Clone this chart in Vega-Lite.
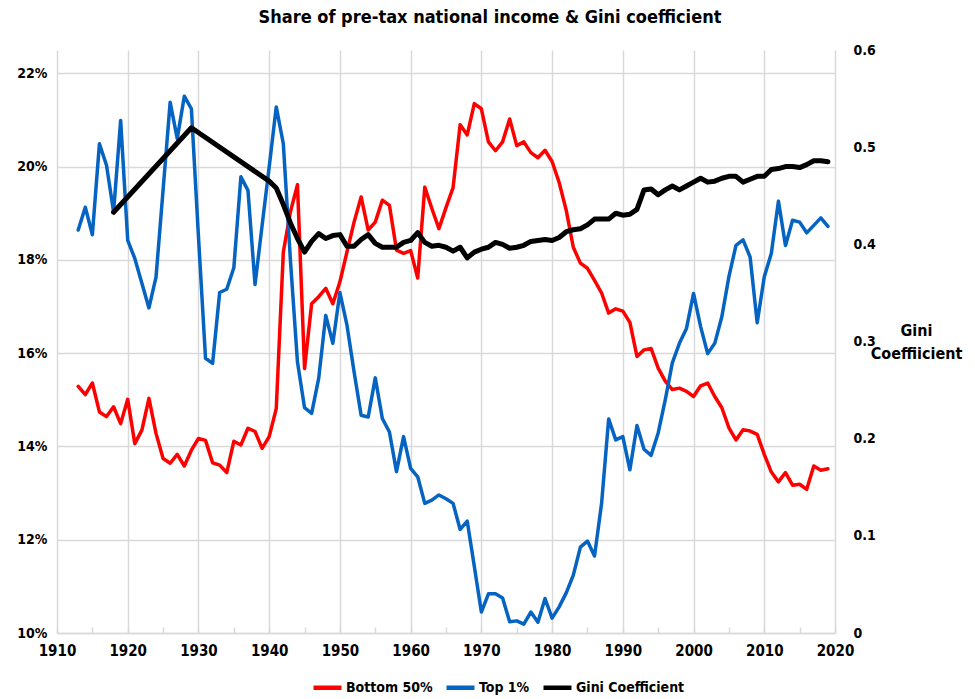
{
  "$schema": "https://vega.github.io/schema/vega-lite/v6.json",
  "width": 778,
  "height": 583,
  "autosize": "none",
  "padding": {"left": 57, "top": 50, "right": 140, "bottom": 66},
  "background": "white",
  "title": {
    "text": "Share of pre-tax national income & Gini coefficient",
    "font": "Liberation Sans Narrow, DejaVu Sans Condensed, sans-serif",
    "fontSize": 18,
    "fontWeight": "bold",
    "color": "#000000",
    "anchor": "middle",
    "dx": 44,
    "offset": 16
  },
  "config": {
    "view": {"stroke": null},
    "axis": {
      "labelFont": "Liberation Sans Narrow, DejaVu Sans Condensed, sans-serif",
      "labelFontWeight": "bold",
      "labelColor": "#000000",
      "titleFont": "Liberation Sans Narrow, DejaVu Sans Condensed, sans-serif"
    },
    "legend": {
      "labelFont": "Liberation Sans Narrow, DejaVu Sans Condensed, sans-serif"
    }
  },
  "data": {
    "values": [
      {"year": 1913, "series": "Bottom 50%", "value": 15.29},
      {"year": 1914, "series": "Bottom 50%", "value": 15.11},
      {"year": 1915, "series": "Bottom 50%", "value": 15.36},
      {"year": 1916, "series": "Bottom 50%", "value": 14.74},
      {"year": 1917, "series": "Bottom 50%", "value": 14.64},
      {"year": 1918, "series": "Bottom 50%", "value": 14.85},
      {"year": 1919, "series": "Bottom 50%", "value": 14.49},
      {"year": 1920, "series": "Bottom 50%", "value": 15.01},
      {"year": 1921, "series": "Bottom 50%", "value": 14.06},
      {"year": 1922, "series": "Bottom 50%", "value": 14.35},
      {"year": 1923, "series": "Bottom 50%", "value": 15.03},
      {"year": 1924, "series": "Bottom 50%", "value": 14.28},
      {"year": 1925, "series": "Bottom 50%", "value": 13.74},
      {"year": 1926, "series": "Bottom 50%", "value": 13.64},
      {"year": 1927, "series": "Bottom 50%", "value": 13.83},
      {"year": 1928, "series": "Bottom 50%", "value": 13.58},
      {"year": 1929, "series": "Bottom 50%", "value": 13.92},
      {"year": 1930, "series": "Bottom 50%", "value": 14.17},
      {"year": 1931, "series": "Bottom 50%", "value": 14.13},
      {"year": 1932, "series": "Bottom 50%", "value": 13.65},
      {"year": 1933, "series": "Bottom 50%", "value": 13.6},
      {"year": 1934, "series": "Bottom 50%", "value": 13.44},
      {"year": 1935, "series": "Bottom 50%", "value": 14.11},
      {"year": 1936, "series": "Bottom 50%", "value": 14.03},
      {"year": 1937, "series": "Bottom 50%", "value": 14.39},
      {"year": 1938, "series": "Bottom 50%", "value": 14.32},
      {"year": 1939, "series": "Bottom 50%", "value": 13.96},
      {"year": 1940, "series": "Bottom 50%", "value": 14.21},
      {"year": 1941, "series": "Bottom 50%", "value": 14.81},
      {"year": 1942, "series": "Bottom 50%", "value": 18.17},
      {"year": 1943, "series": "Bottom 50%", "value": 19.03},
      {"year": 1944, "series": "Bottom 50%", "value": 19.61},
      {"year": 1945, "series": "Bottom 50%", "value": 15.67},
      {"year": 1946, "series": "Bottom 50%", "value": 17.06},
      {"year": 1947, "series": "Bottom 50%", "value": 17.21},
      {"year": 1948, "series": "Bottom 50%", "value": 17.39},
      {"year": 1949, "series": "Bottom 50%", "value": 17.06},
      {"year": 1950, "series": "Bottom 50%", "value": 17.53},
      {"year": 1951, "series": "Bottom 50%", "value": 18.17},
      {"year": 1952, "series": "Bottom 50%", "value": 18.81},
      {"year": 1953, "series": "Bottom 50%", "value": 19.35},
      {"year": 1954, "series": "Bottom 50%", "value": 18.64},
      {"year": 1955, "series": "Bottom 50%", "value": 18.81},
      {"year": 1956, "series": "Bottom 50%", "value": 19.28},
      {"year": 1957, "series": "Bottom 50%", "value": 19.17},
      {"year": 1958, "series": "Bottom 50%", "value": 18.21},
      {"year": 1959, "series": "Bottom 50%", "value": 18.14},
      {"year": 1960, "series": "Bottom 50%", "value": 18.2},
      {"year": 1961, "series": "Bottom 50%", "value": 17.61},
      {"year": 1962, "series": "Bottom 50%", "value": 19.56},
      {"year": 1963, "series": "Bottom 50%", "value": 19.1},
      {"year": 1964, "series": "Bottom 50%", "value": 18.67},
      {"year": 1965, "series": "Bottom 50%", "value": 19.12},
      {"year": 1966, "series": "Bottom 50%", "value": 19.55},
      {"year": 1967, "series": "Bottom 50%", "value": 20.9},
      {"year": 1968, "series": "Bottom 50%", "value": 20.68},
      {"year": 1969, "series": "Bottom 50%", "value": 21.35},
      {"year": 1970, "series": "Bottom 50%", "value": 21.24},
      {"year": 1971, "series": "Bottom 50%", "value": 20.53},
      {"year": 1972, "series": "Bottom 50%", "value": 20.34},
      {"year": 1973, "series": "Bottom 50%", "value": 20.53},
      {"year": 1974, "series": "Bottom 50%", "value": 21.02},
      {"year": 1975, "series": "Bottom 50%", "value": 20.45},
      {"year": 1976, "series": "Bottom 50%", "value": 20.53},
      {"year": 1977, "series": "Bottom 50%", "value": 20.3},
      {"year": 1978, "series": "Bottom 50%", "value": 20.19},
      {"year": 1979, "series": "Bottom 50%", "value": 20.35},
      {"year": 1980, "series": "Bottom 50%", "value": 20.11},
      {"year": 1981, "series": "Bottom 50%", "value": 19.66},
      {"year": 1982, "series": "Bottom 50%", "value": 19.06},
      {"year": 1983, "series": "Bottom 50%", "value": 18.27},
      {"year": 1984, "series": "Bottom 50%", "value": 17.93},
      {"year": 1985, "series": "Bottom 50%", "value": 17.82},
      {"year": 1986, "series": "Bottom 50%", "value": 17.56},
      {"year": 1987, "series": "Bottom 50%", "value": 17.29},
      {"year": 1988, "series": "Bottom 50%", "value": 16.86},
      {"year": 1989, "series": "Bottom 50%", "value": 16.95},
      {"year": 1990, "series": "Bottom 50%", "value": 16.9},
      {"year": 1991, "series": "Bottom 50%", "value": 16.66},
      {"year": 1992, "series": "Bottom 50%", "value": 15.93},
      {"year": 1993, "series": "Bottom 50%", "value": 16.07},
      {"year": 1994, "series": "Bottom 50%", "value": 16.1},
      {"year": 1995, "series": "Bottom 50%", "value": 15.68},
      {"year": 1996, "series": "Bottom 50%", "value": 15.4},
      {"year": 1997, "series": "Bottom 50%", "value": 15.22},
      {"year": 1998, "series": "Bottom 50%", "value": 15.25},
      {"year": 1999, "series": "Bottom 50%", "value": 15.18},
      {"year": 2000, "series": "Bottom 50%", "value": 15.07},
      {"year": 2001, "series": "Bottom 50%", "value": 15.3},
      {"year": 2002, "series": "Bottom 50%", "value": 15.36},
      {"year": 2003, "series": "Bottom 50%", "value": 15.07},
      {"year": 2004, "series": "Bottom 50%", "value": 14.83},
      {"year": 2005, "series": "Bottom 50%", "value": 14.4},
      {"year": 2006, "series": "Bottom 50%", "value": 14.14},
      {"year": 2007, "series": "Bottom 50%", "value": 14.36},
      {"year": 2008, "series": "Bottom 50%", "value": 14.33},
      {"year": 2009, "series": "Bottom 50%", "value": 14.26},
      {"year": 2010, "series": "Bottom 50%", "value": 13.83},
      {"year": 2011, "series": "Bottom 50%", "value": 13.45},
      {"year": 2012, "series": "Bottom 50%", "value": 13.24},
      {"year": 2013, "series": "Bottom 50%", "value": 13.44},
      {"year": 2014, "series": "Bottom 50%", "value": 13.17},
      {"year": 2015, "series": "Bottom 50%", "value": 13.19},
      {"year": 2016, "series": "Bottom 50%", "value": 13.08},
      {"year": 2017, "series": "Bottom 50%", "value": 13.58},
      {"year": 2018, "series": "Bottom 50%", "value": 13.49},
      {"year": 2019, "series": "Bottom 50%", "value": 13.52},
      {"year": 1913, "series": "Top 1%", "value": 18.64},
      {"year": 1914, "series": "Top 1%", "value": 19.13},
      {"year": 1915, "series": "Top 1%", "value": 18.54},
      {"year": 1916, "series": "Top 1%", "value": 20.49},
      {"year": 1917, "series": "Top 1%", "value": 20.03},
      {"year": 1918, "series": "Top 1%", "value": 19.03},
      {"year": 1919, "series": "Top 1%", "value": 20.99},
      {"year": 1920, "series": "Top 1%", "value": 18.42},
      {"year": 1921, "series": "Top 1%", "value": 18.03},
      {"year": 1922, "series": "Top 1%", "value": 17.5},
      {"year": 1923, "series": "Top 1%", "value": 16.97},
      {"year": 1924, "series": "Top 1%", "value": 17.63},
      {"year": 1925, "series": "Top 1%", "value": 19.5},
      {"year": 1926, "series": "Top 1%", "value": 21.38},
      {"year": 1927, "series": "Top 1%", "value": 20.6},
      {"year": 1928, "series": "Top 1%", "value": 21.51},
      {"year": 1929, "series": "Top 1%", "value": 21.24},
      {"year": 1930, "series": "Top 1%", "value": 18.5},
      {"year": 1931, "series": "Top 1%", "value": 15.89},
      {"year": 1932, "series": "Top 1%", "value": 15.78},
      {"year": 1933, "series": "Top 1%", "value": 17.3},
      {"year": 1934, "series": "Top 1%", "value": 17.37},
      {"year": 1935, "series": "Top 1%", "value": 17.83},
      {"year": 1936, "series": "Top 1%", "value": 19.78},
      {"year": 1937, "series": "Top 1%", "value": 19.49},
      {"year": 1938, "series": "Top 1%", "value": 17.47},
      {"year": 1939, "series": "Top 1%", "value": 18.74},
      {"year": 1940, "series": "Top 1%", "value": 19.99},
      {"year": 1941, "series": "Top 1%", "value": 21.28},
      {"year": 1942, "series": "Top 1%", "value": 20.49},
      {"year": 1943, "series": "Top 1%", "value": 18.0},
      {"year": 1944, "series": "Top 1%", "value": 15.81},
      {"year": 1945, "series": "Top 1%", "value": 14.83},
      {"year": 1946, "series": "Top 1%", "value": 14.71},
      {"year": 1947, "series": "Top 1%", "value": 15.46},
      {"year": 1948, "series": "Top 1%", "value": 16.81},
      {"year": 1949, "series": "Top 1%", "value": 16.21},
      {"year": 1950, "series": "Top 1%", "value": 17.3},
      {"year": 1951, "series": "Top 1%", "value": 16.6},
      {"year": 1952, "series": "Top 1%", "value": 15.6},
      {"year": 1953, "series": "Top 1%", "value": 14.67},
      {"year": 1954, "series": "Top 1%", "value": 14.63},
      {"year": 1955, "series": "Top 1%", "value": 15.47},
      {"year": 1956, "series": "Top 1%", "value": 14.6},
      {"year": 1957, "series": "Top 1%", "value": 14.31},
      {"year": 1958, "series": "Top 1%", "value": 13.46},
      {"year": 1959, "series": "Top 1%", "value": 14.21},
      {"year": 1960, "series": "Top 1%", "value": 13.53},
      {"year": 1961, "series": "Top 1%", "value": 13.35},
      {"year": 1962, "series": "Top 1%", "value": 12.78},
      {"year": 1963, "series": "Top 1%", "value": 12.85},
      {"year": 1964, "series": "Top 1%", "value": 12.96},
      {"year": 1965, "series": "Top 1%", "value": 12.88},
      {"year": 1966, "series": "Top 1%", "value": 12.78},
      {"year": 1967, "series": "Top 1%", "value": 12.22},
      {"year": 1968, "series": "Top 1%", "value": 12.4},
      {"year": 1969, "series": "Top 1%", "value": 11.43},
      {"year": 1970, "series": "Top 1%", "value": 10.45},
      {"year": 1971, "series": "Top 1%", "value": 10.84},
      {"year": 1972, "series": "Top 1%", "value": 10.84},
      {"year": 1973, "series": "Top 1%", "value": 10.75},
      {"year": 1974, "series": "Top 1%", "value": 10.24},
      {"year": 1975, "series": "Top 1%", "value": 10.26},
      {"year": 1976, "series": "Top 1%", "value": 10.19},
      {"year": 1977, "series": "Top 1%", "value": 10.45},
      {"year": 1978, "series": "Top 1%", "value": 10.23},
      {"year": 1979, "series": "Top 1%", "value": 10.74},
      {"year": 1980, "series": "Top 1%", "value": 10.32},
      {"year": 1981, "series": "Top 1%", "value": 10.56},
      {"year": 1982, "series": "Top 1%", "value": 10.86},
      {"year": 1983, "series": "Top 1%", "value": 11.24},
      {"year": 1984, "series": "Top 1%", "value": 11.84},
      {"year": 1985, "series": "Top 1%", "value": 11.97},
      {"year": 1986, "series": "Top 1%", "value": 11.65},
      {"year": 1987, "series": "Top 1%", "value": 12.78},
      {"year": 1988, "series": "Top 1%", "value": 14.59},
      {"year": 1989, "series": "Top 1%", "value": 14.14},
      {"year": 1990, "series": "Top 1%", "value": 14.21},
      {"year": 1991, "series": "Top 1%", "value": 13.5},
      {"year": 1992, "series": "Top 1%", "value": 14.45},
      {"year": 1993, "series": "Top 1%", "value": 13.94},
      {"year": 1994, "series": "Top 1%", "value": 13.81},
      {"year": 1995, "series": "Top 1%", "value": 14.29},
      {"year": 1996, "series": "Top 1%", "value": 15.0},
      {"year": 1997, "series": "Top 1%", "value": 15.79},
      {"year": 1998, "series": "Top 1%", "value": 16.21},
      {"year": 1999, "series": "Top 1%", "value": 16.53},
      {"year": 2000, "series": "Top 1%", "value": 17.28},
      {"year": 2001, "series": "Top 1%", "value": 16.57},
      {"year": 2002, "series": "Top 1%", "value": 15.99},
      {"year": 2003, "series": "Top 1%", "value": 16.21},
      {"year": 2004, "series": "Top 1%", "value": 16.78},
      {"year": 2005, "series": "Top 1%", "value": 17.64},
      {"year": 2006, "series": "Top 1%", "value": 18.31},
      {"year": 2007, "series": "Top 1%", "value": 18.43},
      {"year": 2008, "series": "Top 1%", "value": 18.06},
      {"year": 2009, "series": "Top 1%", "value": 16.65},
      {"year": 2010, "series": "Top 1%", "value": 17.64},
      {"year": 2011, "series": "Top 1%", "value": 18.14},
      {"year": 2012, "series": "Top 1%", "value": 19.26},
      {"year": 2013, "series": "Top 1%", "value": 18.31},
      {"year": 2014, "series": "Top 1%", "value": 18.85},
      {"year": 2015, "series": "Top 1%", "value": 18.81},
      {"year": 2016, "series": "Top 1%", "value": 18.58},
      {"year": 2017, "series": "Top 1%", "value": 18.74},
      {"year": 2018, "series": "Top 1%", "value": 18.9},
      {"year": 2019, "series": "Top 1%", "value": 18.72},
      {"year": 1918, "series": "Gini Coefficient", "value": 0.433},
      {"year": 1929, "series": "Gini Coefficient", "value": 0.52},
      {"year": 1940, "series": "Gini Coefficient", "value": 0.465},
      {"year": 1941, "series": "Gini Coefficient", "value": 0.458},
      {"year": 1942, "series": "Gini Coefficient", "value": 0.441},
      {"year": 1943, "series": "Gini Coefficient", "value": 0.422},
      {"year": 1944, "series": "Gini Coefficient", "value": 0.406},
      {"year": 1945, "series": "Gini Coefficient", "value": 0.392},
      {"year": 1946, "series": "Gini Coefficient", "value": 0.403},
      {"year": 1947, "series": "Gini Coefficient", "value": 0.411},
      {"year": 1948, "series": "Gini Coefficient", "value": 0.406},
      {"year": 1949, "series": "Gini Coefficient", "value": 0.409},
      {"year": 1950, "series": "Gini Coefficient", "value": 0.41},
      {"year": 1951, "series": "Gini Coefficient", "value": 0.398},
      {"year": 1952, "series": "Gini Coefficient", "value": 0.398},
      {"year": 1953, "series": "Gini Coefficient", "value": 0.405},
      {"year": 1954, "series": "Gini Coefficient", "value": 0.41},
      {"year": 1955, "series": "Gini Coefficient", "value": 0.401},
      {"year": 1956, "series": "Gini Coefficient", "value": 0.397},
      {"year": 1957, "series": "Gini Coefficient", "value": 0.397},
      {"year": 1958, "series": "Gini Coefficient", "value": 0.397},
      {"year": 1959, "series": "Gini Coefficient", "value": 0.402},
      {"year": 1960, "series": "Gini Coefficient", "value": 0.404},
      {"year": 1961, "series": "Gini Coefficient", "value": 0.412},
      {"year": 1962, "series": "Gini Coefficient", "value": 0.402},
      {"year": 1963, "series": "Gini Coefficient", "value": 0.398},
      {"year": 1964, "series": "Gini Coefficient", "value": 0.399},
      {"year": 1965, "series": "Gini Coefficient", "value": 0.397},
      {"year": 1966, "series": "Gini Coefficient", "value": 0.393},
      {"year": 1967, "series": "Gini Coefficient", "value": 0.397},
      {"year": 1968, "series": "Gini Coefficient", "value": 0.386},
      {"year": 1969, "series": "Gini Coefficient", "value": 0.392},
      {"year": 1970, "series": "Gini Coefficient", "value": 0.395},
      {"year": 1971, "series": "Gini Coefficient", "value": 0.397},
      {"year": 1972, "series": "Gini Coefficient", "value": 0.402},
      {"year": 1973, "series": "Gini Coefficient", "value": 0.4},
      {"year": 1974, "series": "Gini Coefficient", "value": 0.396},
      {"year": 1975, "series": "Gini Coefficient", "value": 0.397},
      {"year": 1976, "series": "Gini Coefficient", "value": 0.399},
      {"year": 1977, "series": "Gini Coefficient", "value": 0.403},
      {"year": 1978, "series": "Gini Coefficient", "value": 0.404},
      {"year": 1979, "series": "Gini Coefficient", "value": 0.405},
      {"year": 1980, "series": "Gini Coefficient", "value": 0.404},
      {"year": 1981, "series": "Gini Coefficient", "value": 0.407},
      {"year": 1982, "series": "Gini Coefficient", "value": 0.413},
      {"year": 1983, "series": "Gini Coefficient", "value": 0.415},
      {"year": 1984, "series": "Gini Coefficient", "value": 0.416},
      {"year": 1985, "series": "Gini Coefficient", "value": 0.42},
      {"year": 1986, "series": "Gini Coefficient", "value": 0.426},
      {"year": 1987, "series": "Gini Coefficient", "value": 0.426},
      {"year": 1988, "series": "Gini Coefficient", "value": 0.426},
      {"year": 1989, "series": "Gini Coefficient", "value": 0.432},
      {"year": 1990, "series": "Gini Coefficient", "value": 0.43},
      {"year": 1991, "series": "Gini Coefficient", "value": 0.431},
      {"year": 1992, "series": "Gini Coefficient", "value": 0.436},
      {"year": 1993, "series": "Gini Coefficient", "value": 0.456},
      {"year": 1994, "series": "Gini Coefficient", "value": 0.457},
      {"year": 1995, "series": "Gini Coefficient", "value": 0.451},
      {"year": 1996, "series": "Gini Coefficient", "value": 0.456},
      {"year": 1997, "series": "Gini Coefficient", "value": 0.46},
      {"year": 1998, "series": "Gini Coefficient", "value": 0.456},
      {"year": 1999, "series": "Gini Coefficient", "value": 0.46},
      {"year": 2000, "series": "Gini Coefficient", "value": 0.464},
      {"year": 2001, "series": "Gini Coefficient", "value": 0.468},
      {"year": 2002, "series": "Gini Coefficient", "value": 0.464},
      {"year": 2003, "series": "Gini Coefficient", "value": 0.465},
      {"year": 2004, "series": "Gini Coefficient", "value": 0.468},
      {"year": 2005, "series": "Gini Coefficient", "value": 0.47},
      {"year": 2006, "series": "Gini Coefficient", "value": 0.47},
      {"year": 2007, "series": "Gini Coefficient", "value": 0.464},
      {"year": 2008, "series": "Gini Coefficient", "value": 0.467},
      {"year": 2009, "series": "Gini Coefficient", "value": 0.47},
      {"year": 2010, "series": "Gini Coefficient", "value": 0.47},
      {"year": 2011, "series": "Gini Coefficient", "value": 0.477},
      {"year": 2012, "series": "Gini Coefficient", "value": 0.478},
      {"year": 2013, "series": "Gini Coefficient", "value": 0.48},
      {"year": 2014, "series": "Gini Coefficient", "value": 0.48},
      {"year": 2015, "series": "Gini Coefficient", "value": 0.479},
      {"year": 2016, "series": "Gini Coefficient", "value": 0.482},
      {"year": 2017, "series": "Gini Coefficient", "value": 0.486},
      {"year": 2018, "series": "Gini Coefficient", "value": 0.486},
      {"year": 2019, "series": "Gini Coefficient", "value": 0.485}
    ]
  },
  "encoding": {
    "x": {
      "field": "year",
      "type": "quantitative",
      "scale": {"domain": [1910, 2020], "nice": false, "zero": false},
      "axis": {
        "title": null,
        "values": [1910, 1915, 1920, 1925, 1930, 1935, 1940, 1945, 1950, 1955, 1960, 1965, 1970, 1975, 1980, 1985, 1990, 1995, 2000, 2005, 2010, 2015, 2020],
        "labelExpr": "datum.value % 10 === 0 ? datum.value : ''",
        "labelFlush": false,
        "labelOverlap": false,
        "grid": true,
        "gridColor": "#d9d9d9",
        "gridWidth": 1.5,
        "gridOpacity": {"condition": {"test": "datum.value % 10 === 0", "value": 1}, "value": 0},
        "domainColor": "#d9d9d9",
        "domainWidth": 1.5,
        "ticks": true,
        "tickColor": "#d9d9d9",
        "tickWidth": 1.5,
        "tickSize": -6,
        "labelFontSize": 15,
        "labelPadding": 16
      }
    },
    "color": {
      "field": "series",
      "type": "nominal",
      "scale": {"domain": ["Bottom 50%", "Top 1%", "Gini Coefficient"], "range": ["#ff0000", "#0563c1", "#000000"]},
      "legend": {
        "title": null,
        "orient": "none",
        "direction": "horizontal",
        "legendX": 254,
        "legendY": 621,
        "symbolType": "stroke",
        "symbolSize": 784,
        "symbolStrokeWidth": 4.5,
        "labelFontSize": 14,
        "labelFontWeight": "bold",
        "labelColor": "#000000",
        "labelOffset": 2,
        "columnPadding": 4
      }
    }
  },
  "layer": [
    {
      "encoding": {
        "y": {
          "field": "value",
          "type": "quantitative",
          "scale": {"domain": [10, 22.5], "nice": false, "zero": false},
          "axis": {
            "title": null,
            "values": [10, 12, 14, 16, 18, 20, 22],
            "labelExpr": "datum.value + '%'",
            "grid": true,
            "gridColor": "#d9d9d9",
            "gridWidth": 1.5,
            "domain": false,
            "ticks": false,
            "labelFontSize": 14,
            "labelPadding": 10
          }
        }
      },
      "layer": [
        {
          "transform": [{"filter": "datum.series === 'Bottom 50%'"}],
          "mark": {"type": "line", "strokeWidth": 3.5, "strokeJoin": "round", "strokeCap": "round"}
        },
        {
          "transform": [{"filter": "datum.series === 'Top 1%'"}],
          "mark": {"type": "line", "strokeWidth": 3.5, "strokeJoin": "round", "strokeCap": "round"}
        }
      ]
    },
    {
      "transform": [{"filter": "datum.series === 'Gini Coefficient'"}],
      "mark": {"type": "line", "strokeWidth": 5, "strokeJoin": "round", "strokeCap": "round"},
      "encoding": {
        "y": {
          "field": "value",
          "type": "quantitative",
          "scale": {"domain": [0, 0.6], "nice": false, "zero": true},
          "axis": {
            "orient": "right",
            "values": [0, 0.1, 0.2, 0.3, 0.4, 0.5, 0.6],
            "labelExpr": "datum.value === 0 ? '0' : format(datum.value, '.1f')",
            "grid": false,
            "domain": false,
            "ticks": false,
            "labelFontSize": 14,
            "labelPadding": 18,
            "title": ["Gini", "Coeffiicient"],
            "titleAngle": 0,
            "titleFontSize": 16,
            "titleFontWeight": "bold",
            "titleColor": "#000000",
            "titleAlign": "center",
            "titleBaseline": "top",
            "titleX": 81,
            "titleY": 272,
            "titleLineHeight": 23
          }
        }
      }
    }
  ],
  "resolve": {"scale": {"y": "independent"}}
}
